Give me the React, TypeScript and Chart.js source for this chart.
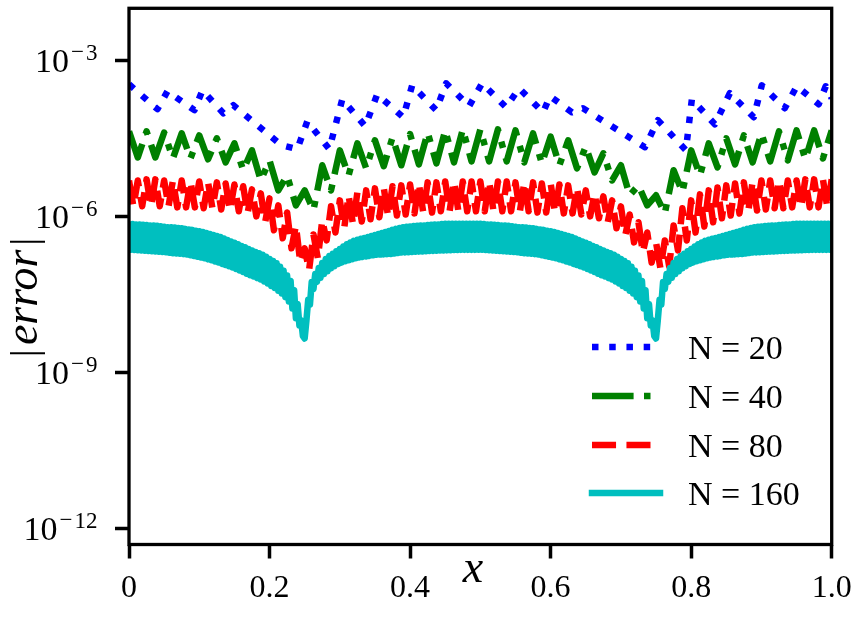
import React, { useRef, useEffect } from 'react';
import Chart from 'chart.js/auto';

// axis ticks
const xTickValues = [0, 0.2, 0.4, 0.6, 0.8, 1.0];
const xTickLabels = ['0', '0.2', '0.4', '0.6', '0.8', '1.0'];
const yTickValues = [1e-12, 1e-9, 1e-6, 1e-3];
const yTickExponents = ['12', '9', '6', '3'];
const yMin = 4.92e-13;
const yMax = 1e-2;

const seriesLabels = ['N = 20', 'N = 40', 'N = 80', 'N = 160'];

// N = 20: turning points of the curve (x, |error|)
const n20X = [
    0, 0.0405, 0.0547, 0.0931, 0.1045, 0.1343, 0.1485, 0.2168, 0.2395, 0.2537,
    0.285, 0.3035, 0.3362, 0.3532, 0.3902, 0.403, 0.4371, 0.4513, 0.484, 0.5025,
    0.5366, 0.5551, 0.5892, 0.5991, 0.6304, 0.646, 0.7342, 0.7527, 0.7925, 0.801,
    0.8337, 0.855, 0.8891, 0.9005, 0.9332, 0.9503, 0.9815, 0.9915, 1.0,
];
const n20Y = [
    3.46e-4, 1.15e-4, 2.54e-4, 1.1e-4, 2.65e-4, 9.6e-5, 1.37e-4, 2.34e-5, 1.96e-5, 6.7e-5,
    1.96e-5, 1.78e-4, 5.4e-5, 2.22e-4, 8.05e-5, 3.31e-4, 1.1e-4, 3.62e-4, 1.31e-4, 3.62e-4,
    1.25e-4, 2.9e-4, 1.0e-4, 2.04e-4, 1.0e-4, 1.2e-4, 2.14e-5, 7.05e-5, 1.87e-5, 1.78e-4,
    5.9e-5, 2.33e-4, 8.05e-5, 3.31e-4, 1.2e-4, 3.17e-4, 1.43e-4, 3.17e-4, 1.87e-4,
];

// N = 40: uniform samples on [0, 1] (step 0.0125)
const n40Y = [
    4.3e-5, 1.36e-5, 4.3e-5, 1.36e-5, 4.1e-5, 1.3e-5, 3.95e-5, 1.3e-5, 3.6e-5, 1.25e-5,
    3.16e-5, 1.09e-5, 2.54e-5, 7.7e-6, 1.86e-5, 4.9e-6, 1.19e-5, 3.16e-6, 6.1e-6, 1.63e-6,
    3.16e-6, 1.3e-6, 9.6e-6, 3.16e-6, 1.86e-5, 6.1e-6, 2.54e-5, 8.4e-6, 2.9e-5, 9.2e-6,
    3.3e-5, 9.6e-6, 3.8e-5, 1.0e-5, 4.1e-5, 1.04e-5, 4.5e-5, 1.09e-5, 4.7e-5, 1.14e-5,
    4.7e-5, 1.14e-5, 4.7e-5, 1.14e-5, 4.5e-5, 1.09e-5, 3.95e-5, 1.04e-5, 3.4e-5, 9.6e-6,
    2.9e-5, 8.4e-6, 2.2e-5, 7.0e-6, 1.63e-5, 4.9e-6, 9.6e-6, 2.54e-6, 3.95e-6, 1.63e-6,
    2.54e-6, 1.14e-6, 7.7e-6, 2.9e-6, 1.86e-5, 6.1e-6, 2.54e-5, 8.75e-6, 3.16e-5, 1.0e-5,
    3.6e-5, 1.09e-5, 3.95e-5, 1.14e-5, 4.3e-5, 1.19e-5, 4.5e-5, 1.25e-5, 4.5e-5, 1.3e-5,
    4.5e-5,
];

// N = 80: uniform samples on [0, 1] (step 0.00625)
const n80Y = [
    4.9e-6, 1.56e-6, 4.9e-6, 1.56e-6, 5.15e-6, 1.56e-6, 5.15e-6, 1.56e-6, 4.9e-6, 1.56e-6,
    4.9e-6, 1.49e-6, 4.9e-6, 1.49e-6, 4.7e-6, 1.49e-6, 4.7e-6, 1.43e-6, 4.5e-6, 1.43e-6,
    4.5e-6, 1.36e-6, 4.3e-6, 1.3e-6, 4.1e-6, 1.25e-6, 3.8e-6, 1.14e-6, 3.3e-6, 1.0e-6,
    2.77e-6, 7.7e-7, 2.22e-6, 5.4e-7, 1.63e-6, 3.8e-7, 1.19e-6, 2.43e-7, 6.7e-7, 1.3e-7,
    2.43e-7, 9.2e-8, 4.5e-7, 1.56e-7, 8.4e-7, 3.45e-7, 1.56e-6, 4.9e-7, 2.03e-6, 5.9e-7,
    2.54e-6, 7.0e-7, 2.9e-6, 8.0e-7, 3.16e-6, 8.8e-7, 3.45e-6, 9.6e-7, 3.6e-6, 1.0e-6,
    3.8e-6, 1.04e-6, 3.94e-6, 1.09e-6, 4.1e-6, 1.14e-6, 4.3e-6, 1.19e-6, 4.5e-6, 1.19e-6,
    4.5e-6, 1.25e-6, 4.7e-6, 1.25e-6, 4.7e-6, 1.25e-6, 4.7e-6, 1.25e-6, 4.7e-6, 1.25e-6,
    4.7e-6, 1.25e-6, 4.7e-6, 1.25e-6, 4.7e-6, 1.25e-6, 4.7e-6, 1.25e-6, 4.5e-6, 1.25e-6,
    4.5e-6, 1.25e-6, 4.5e-6, 1.19e-6, 4.3e-6, 1.19e-6, 4.3e-6, 1.19e-6, 4.1e-6, 1.14e-6,
    3.94e-6, 1.14e-6, 3.6e-6, 1.09e-6, 3.16e-6, 1.0e-6, 2.77e-6, 9.2e-7, 2.42e-6, 7.7e-7,
    2.03e-6, 5.9e-7, 1.56e-6, 4.3e-7, 1.09e-6, 3.16e-7, 7.7e-7, 2.03e-7, 4.9e-7, 1.3e-7,
    3.16e-7, 1.0e-7, 3.45e-7, 1.09e-7, 6.7e-7, 2.22e-7, 1.43e-6, 3.45e-7, 2.03e-6, 4.9e-7,
    2.65e-6, 6.4e-7, 3.16e-6, 7.7e-7, 3.6e-6, 9.2e-7, 3.94e-6, 1.04e-6, 4.3e-6, 1.14e-6,
    4.5e-6, 1.25e-6, 4.7e-6, 1.3e-6, 4.9e-6, 1.36e-6, 4.9e-6, 1.43e-6, 4.9e-6, 1.43e-6,
    4.9e-6, 1.49e-6, 4.9e-6, 1.49e-6, 5.15e-6, 1.49e-6, 5.15e-6, 1.49e-6, 5.15e-6, 1.49e-6,
    5.15e-6,
];

// N = 160: uniform samples on [0, 1] (step 0.0025)
const n160Y = [
    7.2e-7, 2.28e-7, 7.1e-7, 2.26e-7, 7.0e-7, 2.23e-7, 6.95e-7, 2.21e-7, 6.9e-7, 2.18e-7,
    6.8e-7, 2.16e-7, 6.7e-7, 2.14e-7, 6.65e-7, 2.11e-7, 6.6e-7, 2.08e-7, 6.45e-7, 2.06e-7,
    6.3e-7, 2.04e-7, 6.2e-7, 2.0e-7, 6.15e-7, 1.96e-7, 6.1e-7, 1.93e-7, 6.0e-7, 1.91e-7,
    5.9e-7, 1.88e-7, 5.75e-7, 1.84e-7, 5.6e-7, 1.79e-7, 5.5e-7, 1.73e-7, 5.3e-7, 1.67e-7,
    5.15e-7, 1.62e-7, 5.0e-7, 1.56e-7, 4.8e-7, 1.49e-7, 4.6e-7, 1.43e-7, 4.4e-7, 1.36e-7,
    4.2e-7, 1.3e-7, 4.0e-7, 1.22e-7, 3.75e-7, 1.16e-7, 3.5e-7, 1.1e-7, 3.3e-7, 1.04e-7,
    3.1e-7, 9.7e-8, 2.9e-7, 9.1e-8, 2.7e-7, 8.5e-8, 2.55e-7, 7.9e-8, 2.37e-7, 7.4e-8,
    2.2e-7, 7.0e-8, 2.07e-7, 6.5e-8, 1.95e-7, 6.1e-8, 1.82e-7, 5.6e-8, 1.67e-7, 5.1e-8,
    1.52e-7, 4.6e-8, 1.38e-7, 4.2e-8, 1.25e-7, 3.7e-8, 1.08e-7, 3.3e-8, 9.0e-8, 2.8e-8,
    7.3e-8, 2.3e-8, 5.75e-8, 1.7e-8, 3.8e-8, 1.1e-8, 2.07e-8, 8.0e-9, 1.0e-8, 5.0e-9,
    4.5e-9, 1.0e-8, 2.5e-8, 2.0e-8, 5.5e-8, 4.0e-8, 7.8e-8, 5.5e-8, 1.02e-7, 6.6e-8,
    1.27e-7, 7.8e-8, 1.52e-7, 8.8e-8, 1.72e-7, 1.0e-7, 1.9e-7, 1.1e-7, 2.13e-7, 1.21e-7,
    2.37e-7, 1.29e-7, 2.63e-7, 1.37e-7, 2.9e-7, 1.43e-7, 3.14e-7, 1.5e-7, 3.38e-7, 1.57e-7,
    3.55e-7, 1.62e-7, 3.7e-7, 1.66e-7, 3.85e-7, 1.7e-7, 4.0e-7, 1.74e-7, 4.2e-7, 1.78e-7,
    4.4e-7, 1.82e-7, 4.6e-7, 1.84e-7, 4.8e-7, 1.86e-7, 5.0e-7, 1.88e-7, 5.26e-7, 1.9e-7,
    5.5e-7, 1.94e-7, 5.75e-7, 1.98e-7, 6.0e-7, 2.01e-7, 6.2e-7, 2.03e-7, 6.3e-7, 2.05e-7,
    6.4e-7, 2.07e-7, 6.5e-7, 2.09e-7, 6.6e-7, 2.1e-7, 6.65e-7, 2.12e-7, 6.7e-7, 2.13e-7,
    6.8e-7, 2.15e-7, 6.9e-7, 2.17e-7, 6.95e-7, 2.19e-7, 7.0e-7, 2.2e-7, 7.1e-7, 2.21e-7,
    7.2e-7, 2.22e-7, 7.2e-7, 2.24e-7, 7.2e-7, 2.25e-7, 7.2e-7, 2.26e-7, 7.2e-7, 2.27e-7,
    7.2e-7, 2.27e-7, 7.2e-7, 2.27e-7, 7.2e-7, 2.27e-7, 7.2e-7, 2.27e-7, 7.2e-7, 2.28e-7,
    7.2e-7, 2.28e-7, 7.1e-7, 2.26e-7, 7.0e-7, 2.23e-7, 6.95e-7, 2.21e-7, 6.9e-7, 2.18e-7,
    6.8e-7, 2.16e-7, 6.7e-7, 2.14e-7, 6.65e-7, 2.11e-7, 6.6e-7, 2.08e-7, 6.45e-7, 2.06e-7,
    6.3e-7, 2.04e-7, 6.2e-7, 2.0e-7, 6.15e-7, 1.96e-7, 6.1e-7, 1.93e-7, 6.0e-7, 1.91e-7,
    5.9e-7, 1.88e-7, 5.75e-7, 1.84e-7, 5.6e-7, 1.79e-7, 5.5e-7, 1.73e-7, 5.3e-7, 1.67e-7,
    5.15e-7, 1.62e-7, 5.0e-7, 1.56e-7, 4.8e-7, 1.49e-7, 4.6e-7, 1.43e-7, 4.4e-7, 1.36e-7,
    4.2e-7, 1.3e-7, 4.0e-7, 1.22e-7, 3.75e-7, 1.16e-7, 3.5e-7, 1.1e-7, 3.3e-7, 1.04e-7,
    3.1e-7, 9.7e-8, 2.9e-7, 9.1e-8, 2.7e-7, 8.5e-8, 2.55e-7, 7.9e-8, 2.37e-7, 7.4e-8,
    2.2e-7, 7.0e-8, 2.07e-7, 6.5e-8, 1.95e-7, 6.1e-8, 1.82e-7, 5.6e-8, 1.67e-7, 5.1e-8,
    1.52e-7, 4.6e-8, 1.38e-7, 4.2e-8, 1.25e-7, 3.7e-8, 1.08e-7, 3.3e-8, 9.0e-8, 2.8e-8,
    7.3e-8, 2.3e-8, 5.75e-8, 1.7e-8, 3.8e-8, 1.1e-8, 2.07e-8, 8.0e-9, 1.0e-8, 5.0e-9,
    4.5e-9, 1.0e-8, 2.5e-8, 2.0e-8, 5.5e-8, 4.0e-8, 7.8e-8, 5.5e-8, 1.02e-7, 6.6e-8,
    1.27e-7, 7.8e-8, 1.52e-7, 8.8e-8, 1.72e-7, 1.0e-7, 1.9e-7, 1.1e-7, 2.13e-7, 1.21e-7,
    2.37e-7, 1.29e-7, 2.63e-7, 1.37e-7, 2.9e-7, 1.43e-7, 3.14e-7, 1.5e-7, 3.38e-7, 1.57e-7,
    3.55e-7, 1.62e-7, 3.7e-7, 1.66e-7, 3.85e-7, 1.7e-7, 4.0e-7, 1.74e-7, 4.2e-7, 1.78e-7,
    4.4e-7, 1.82e-7, 4.6e-7, 1.84e-7, 4.8e-7, 1.86e-7, 5.0e-7, 1.88e-7, 5.26e-7, 1.9e-7,
    5.5e-7, 1.94e-7, 5.75e-7, 1.98e-7, 6.0e-7, 2.01e-7, 6.2e-7, 2.03e-7, 6.3e-7, 2.05e-7,
    6.4e-7, 2.07e-7, 6.5e-7, 2.09e-7, 6.6e-7, 2.1e-7, 6.65e-7, 2.12e-7, 6.7e-7, 2.13e-7,
    6.8e-7, 2.15e-7, 6.9e-7, 2.17e-7, 6.95e-7, 2.19e-7, 7.0e-7, 2.2e-7, 7.1e-7, 2.21e-7,
    7.2e-7, 2.22e-7, 7.2e-7, 2.24e-7, 7.2e-7, 2.25e-7, 7.2e-7, 2.26e-7, 7.2e-7, 2.27e-7,
    7.2e-7, 2.27e-7, 7.2e-7, 2.27e-7, 7.2e-7, 2.27e-7, 7.2e-7, 2.27e-7, 7.2e-7, 2.28e-7,
    7.2e-7,
];

const SERIF = '"Liberation Serif", "Times New Roman", serif';
const LW = 6.5;

// points on an even grid over [0, 1]
const onGrid = (ys: number[]) => ys.map((y, i) => ({ x: i / (ys.length - 1), y }));

// frame, tick labels, axis titles and the legend, drawn like the matplotlib original
const decorPlugin = {
    id: 'decor',
    afterDraw(chart: any) {
        const { ctx, chartArea: a, scales } = chart;
        const xs = scales.x;
        const ys = scales.y;
        ctx.save();

        ctx.strokeStyle = '#000';
        ctx.lineWidth = 3.3;
        ctx.setLineDash([]);
        ctx.strokeRect(a.left, a.top, a.right - a.left, a.bottom - a.top);

        ctx.fillStyle = '#000';
        ctx.textBaseline = 'alphabetic';

        // x tick labels
        ctx.font = `32px ${SERIF}`;
        ctx.textAlign = 'center';
        xTickValues.forEach((v, i) => {
            ctx.fillText(xTickLabels[i], xs.getPixelForValue(v), a.bottom + 52.5);
        });

        // y tick labels: 10 with a raised exponent
        yTickValues.forEach((v, i) => {
            const y = ys.getPixelForValue(v);
            const right = a.left - 31.5;
            ctx.textAlign = 'right';
            ctx.font = `23px ${SERIF}`;
            ctx.fillText(yTickExponents[i], right, y);
            const wd = ctx.measureText(yTickExponents[i]).width;
            const minusRight = right - wd - 2;
            ctx.fillText('\u2212', minusRight, y - 1);
            const wm = ctx.measureText('\u2212').width;
            ctx.font = `34px ${SERIF}`;
            ctx.fillText('10', minusRight - wm - 2, y + 11.7);
        });

        // x title
        ctx.font = `italic 46px ${SERIF}`;
        ctx.textAlign = 'center';
        ctx.fillText('x', 473, a.bottom + 37.5);

        // y title |error|
        ctx.save();
        ctx.translate(36.7, (a.top + a.bottom) / 2 + 21);
        ctx.rotate(-Math.PI / 2);
        ctx.font = `italic 46px ${SERIF}`;
        ctx.fillText('error', 0, 0);
        ctx.font = `38px ${SERIF}`;
        ctx.fillText('|', -55.8, 0);
        ctx.fillText('|', 55.8, 0);
        ctx.restore();

        // legend
        const legendY = [347, 396, 445, 493];
        chart.data.datasets.forEach((ds: any, i: number) => {
            const y = legendY[i];
            ctx.beginPath();
            ctx.setLineDash(ds.borderDash || []);
            ctx.lineDashOffset = 0;
            ctx.lineWidth = ds.borderWidth;
            ctx.strokeStyle = ds.borderColor;
            ctx.lineCap = ds.borderDash && ds.borderDash.length ? 'butt' : 'square';
            ctx.moveTo(592, y);
            ctx.lineTo(660, y);
            ctx.stroke();
            ctx.setLineDash([]);
            ctx.font = `34px ${SERIF}`;
            ctx.textAlign = 'left';
            ctx.fillStyle = '#000';
            ctx.fillText(ds.label, 688, y + 12);
        });

        ctx.restore();
    },
};

const App: React.FC = () => {
    const canvasRef = useRef<HTMLCanvasElement>(null);
    const chartRef = useRef<Chart | null>(null);

    useEffect(() => {
        if (!canvasRef.current) return;
        if (chartRef.current) chartRef.current.destroy();

        const line = (label: string, data: any[], color: string, dash: number[], order: number) => ({
            label,
            data,
            borderColor: color,
            borderWidth: LW,
            borderDash: dash,
            borderCapStyle: 'butt' as const,
            borderJoinStyle: 'round' as const,
            pointRadius: 0,
            tension: 0,
            fill: false,
            order,
        });

        chartRef.current = new Chart(canvasRef.current, {
            type: 'line',
            data: {
                datasets: [
                    line(seriesLabels[0], n20X.map((x, i) => ({ x, y: n20Y[i] })), '#0000ff', [LW, 1.65 * LW], 4),
                    line(seriesLabels[1], onGrid(n40Y), '#008000', [6.4 * LW, 1.6 * LW, LW, 1.6 * LW], 3),
                    line(seriesLabels[2], onGrid(n80Y), '#ff0000', [3.7 * LW, 1.6 * LW], 2),
                    line(seriesLabels[3], onGrid(n160Y), '#00bfbf', [], 1),
                ],
            },
            options: {
                animation: false,
                responsive: true,
                maintainAspectRatio: false,
                events: [],
                layout: { padding: { top: 8.3, right: 30.3, left: 0, bottom: 0 } },
                plugins: {
                    legend: { display: false },
                    tooltip: { enabled: false },
                },
                scales: {
                    x: {
                        type: 'linear',
                        min: 0,
                        max: 1,
                        border: { display: false },
                        grid: { drawOnChartArea: false, drawTicks: true, tickLength: 14, tickWidth: 3.5, tickColor: '#000' },
                        ticks: { display: false },
                        afterBuildTicks: (s: any) => { s.ticks = xTickValues.map(v => ({ value: v })); },
                        afterFit: (s: any) => { s.height = 75.5; },
                    },
                    y: {
                        type: 'logarithmic',
                        min: yMin,
                        max: yMax,
                        bounds: 'data',
                        border: { display: false },
                        grid: { drawOnChartArea: false, drawTicks: true, tickLength: 14, tickWidth: 3.5, tickColor: '#000' },
                        ticks: { display: false },
                        afterBuildTicks: (s: any) => { s.ticks = yTickValues.map(v => ({ value: v })); },
                        afterFit: (s: any) => { s.width = 129; },
                    },
                },
            },
            plugins: [decorPlugin],
        });

        return () => {
            if (chartRef.current) {
                chartRef.current.destroy();
                chartRef.current = null;
            }
        };
    }, []);

    return (
        <div style={{ position: 'absolute', left: 0, top: 0, width: 862, height: 620, background: '#fff' }}>
            <canvas ref={canvasRef}></canvas>
        </div>
    );
};

export default App;
